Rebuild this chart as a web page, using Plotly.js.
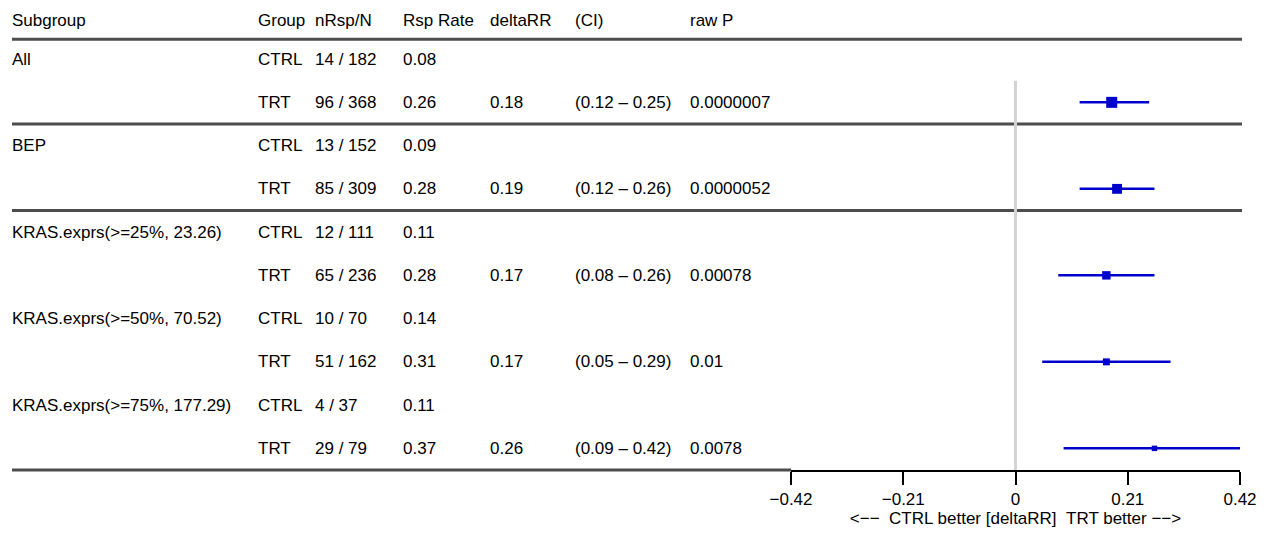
<!DOCTYPE html>
<html>
<head>
<meta charset="utf-8">
<script src="https://cdn.plot.ly/plotly-3.0.1.min.js"></script>
<style>
  html, body { margin: 0; padding: 0; background: #ffffff; }
  #chart { width: 1269px; height: 533px; }
</style>
</head>
<body>
<div id="chart"></div>
<script>
// Subgroup response-rate table with forest plot of delta response rate (TRT - CTRL)
const subgroups = ["All", "BEP", "KRAS.exprs(>=25%, 23.26)", "KRAS.exprs(>=50%, 70.52)", "KRAS.exprs(>=75%, 177.29)"];
const ctrlResp = [14, 13, 12, 10, 4];
const ctrlN    = [182, 152, 111, 70, 37];
const ctrlRate = [0.08, 0.09, 0.11, 0.14, 0.11];
const trtResp  = [96, 85, 65, 51, 29];
const trtN     = [368, 309, 236, 162, 79];
const trtRate  = [0.26, 0.28, 0.28, 0.31, 0.37];
const deltaRR  = [0.18, 0.19, 0.17, 0.17, 0.26];
const ciLow    = [0.12, 0.12, 0.08, 0.05, 0.09];
const ciHigh   = [0.25, 0.26, 0.26, 0.29, 0.42];
const rawP     = ["0.0000007", "0.0000052", "0.00078", "0.01", "0.0078"];
const headers  = ["Subgroup", "Group", "nRsp/N", "Rsp Rate", "deltaRR", "(CI)", "raw P"];
const tickVals = [-0.42, -0.21, 0, 0.21, 0.42];
const tickText = ["\u22120.42", "\u22120.21", "0", "0.21", "0.42"];
const axisTitle = "<\u2212\u2212\u00a0\u00a0CTRL better [deltaRR]\u00a0\u00a0TRT better \u2212\u2212>";

const W = 1269;
const FONT = { family: "Liberation Sans, Arial, sans-serif", size: 17, color: "#000000" };
const BLUE = "#0000CD";
const colX = [12, 258, 315, 403, 490, 575, 690];   // left edge of each table column, px
const HEADER_Y = -0.9;

// row index: CTRL of group g at 2g, TRT at 2g+1
const trtRows = subgroups.map((_, g) => 2 * g + 1);
const totalN = ctrlN.map((n, g) => n + trtN[g]);
const maxN = Math.max(...totalN);

const annotations = [];
function cell(col, y, text) {
  annotations.push({
    xref: "paper", yref: "y", x: colX[col] / W, y: y,
    xanchor: "left", yanchor: "middle", text: text, showarrow: false,
    font: FONT, borderpad: 0, borderwidth: 0
  });
}
headers.forEach((h, c) => cell(c, HEADER_Y, h));
subgroups.forEach((s, g) => {
  const yc = 2 * g, yt = 2 * g + 1;
  cell(0, yc, s);
  cell(1, yc, "CTRL");
  cell(2, yc, ctrlResp[g] + " / " + ctrlN[g]);
  cell(3, yc, ctrlRate[g].toFixed(2));
  cell(1, yt, "TRT");
  cell(2, yt, trtResp[g] + " / " + trtN[g]);
  cell(3, yt, trtRate[g].toFixed(2));
  cell(4, yt, deltaRR[g].toFixed(2));
  cell(5, yt, "(" + ciLow[g].toFixed(2) + " \u2013 " + ciHigh[g].toFixed(2) + ")");
  cell(6, yt, rawP[g]);
});

// separator rules across the table
const ruleColor = "#4d4d4d";
const ruleLine = { color: ruleColor, width: 3 };
const shapes = [-0.46, 1.5, 3.5].map(y => ({
  type: "line", xref: "paper", yref: "y", x0: 12 / W, x1: 1242 / W, y0: y, y1: y,
  line: ruleLine, layer: "below"
}));
// closing rule, meeting the forest axis
shapes.push({
  type: "line", xref: "paper", yref: "paper", x0: 12 / W, x1: 791 / W, y0: 0, y1: 0,
  line: ruleLine, layer: "below"
});
// no-effect reference line
shapes.push({
  type: "line", xref: "x", yref: "y", x0: 0, x1: 0, y0: 0.5, y1: 9.5,
  line: { color: "#d3d3d3", width: 3 }, layer: "below"
});

const trace = {
  type: "scatter", mode: "markers",
  x: deltaRR, y: trtRows, opacity: 1,
  marker: { symbol: "square", color: BLUE, opacity: 1, size: totalN.map(n => 4 + 7 * n / maxN), line: { width: 0 } },
  error_x: {
    type: "data", symmetric: false,
    array: ciHigh.map((h, g) => h - deltaRR[g]),
    arrayminus: ciLow.map((l, g) => deltaRR[g] - l),
    color: BLUE, thickness: 2.5, width: 0
  },
  hoverinfo: "skip", showlegend: false, cliponaxis: false
};

const layout = {
  width: W, height: 533,
  margin: { l: 0, r: 0, t: 0, b: 63 },
  paper_bgcolor: "#ffffff", plot_bgcolor: "#ffffff",
  font: FONT,
  showlegend: false,
  xaxis: {
    domain: [791 / W, 1240 / W],
    range: [-0.42, 0.42],
    tickvals: tickVals, ticktext: tickText,
    ticks: "outside", ticklen: 13, tickwidth: 2, tickcolor: "#000000",
    showline: true, linecolor: "#000000", linewidth: 2,
    showgrid: false, zeroline: false,
    tickfont: FONT,
    title: { text: axisTitle, font: FONT, standoff: 2 }
  },
  yaxis: {
    range: [9.5, -1.366],
    visible: false, showgrid: false, zeroline: false, fixedrange: true
  },
  annotations: annotations,
  shapes: shapes
};

Plotly.newPlot("chart", [trace], layout, { displayModeBar: false, staticPlot: true });
</script>
</body>
</html>
